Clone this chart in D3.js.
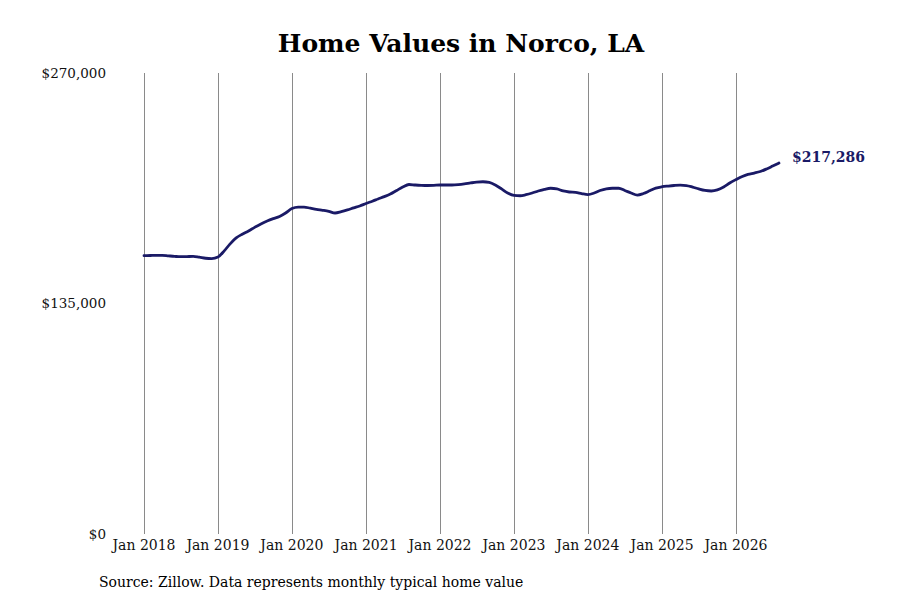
<!DOCTYPE html>
<html><head><meta charset="utf-8">
<script src="https://cdn.jsdelivr.net/npm/d3@7"></script>
<style>body{margin:0;background:#fff;} text{font-family:"DejaVu Serif",serif;}</style>
</head><body>
<svg id="chart" width="900" height="600"></svg>
<script>
const startMonth = "2018-01";
const values = [
163.0,163.1,163.2,163.2,162.9,162.6,162.4,162.5,162.6,162.1,161.5,161.3,
162.2,165.8,169.8,173.4,175.6,177.5,179.6,181.6,183.3,184.7,186.0,188.0,
190.6,191.5,191.5,190.8,190.1,189.6,189.0,188.0,188.8,189.8,191.0,192.1,
193.6,194.9,196.2,197.6,199.1,201.2,203.2,204.7,204.4,204.2,204.1,204.2,
204.4,204.4,204.4,204.6,205.0,205.6,206.1,206.3,205.9,204.4,202.1,199.7,
198.3,198.1,198.7,199.7,200.9,201.9,202.5,202.1,200.9,200.3,200.1,199.4,
198.8,199.7,201.2,202.2,202.5,202.5,201.2,199.7,198.5,199.4,201.0,202.6,
203.4,203.8,204.1,204.3,204.1,203.2,202.1,201.2,200.9,201.5,203.2,205.6,
207.6,209.4,210.6,211.4,212.3,213.8,215.5,217.286
].map(v => v * 1000);
const yTicks = [0, 135000, 270000];
const xTickYears = [2018,2019,2020,2021,2022,2023,2024,2025,2026];
const title = "Home Values in Norco, LA";
const source = "Source: Zillow. Data represents monthly typical home value";

const parse = d3.timeParse("%Y-%m");
const t0 = parse(startMonth);
const data = values.map((v,i) => ({date: d3.timeMonth.offset(t0, i), value: v}));

const svg = d3.select("#chart");
const x = d3.scaleTime().domain([new Date(2018,0,1), new Date(2026,0,1)]).range([144, 736]);
const y = d3.scaleLinear().domain([0, 270000]).range([534, 73]);

// vertical grid
svg.append("g").selectAll("line").data(xTickYears).join("line")
  .attr("x1", d => Math.round(x(new Date(d,0,1))) + 0.5).attr("x2", d => Math.round(x(new Date(d,0,1))) + 0.5)
  .attr("y1", y(270000)).attr("y2", y(0))
  .attr("stroke", "#8a8a8a").attr("stroke-width", 1);

// x labels
svg.append("g").selectAll("text").data(xTickYears).join("text")
  .attr("x", d => x(new Date(d,0,1))).attr("y", 550)
  .attr("text-anchor", "middle").attr("font-size", 14).attr("fill", "#111")
  .text(d => "Jan " + d);

// y labels
const fmt = d => "$" + d3.format(",")(d);
svg.append("g").selectAll("text").data(yTicks).join("text")
  .attr("x", 106).attr("y", d => y(d)).attr("dy", "0.35em")
  .attr("text-anchor", "end").attr("font-size", 13.5).attr("fill", "#111")
  .text(fmt);

// line
const line = d3.line().x(d => x(d.date)).y(d => y(d.value)).curve(d3.curveMonotoneX);
svg.append("path").datum(data).attr("d", line)
  .attr("fill", "none").attr("stroke", "#1a1a66").attr("stroke-width", 2.8)
  .attr("stroke-linejoin", "round").attr("stroke-linecap", "round");

// end label
const last = data[data.length-1];
svg.append("text").attr("x", x(last.date) + 13).attr("y", y(last.value) - 6).attr("dy", "0.35em")
  .attr("font-size", 14).attr("font-weight", "bold").attr("fill", "#1a1a66")
  .text(fmt(Math.round(last.value)));

// title
svg.append("text").attr("x", 461).attr("y", 52).attr("text-anchor", "middle")
  .attr("font-size", 25).attr("font-weight", "bold").attr("fill", "#000").text(title);

// source
svg.append("text").attr("x", 99).attr("y", 587).attr("font-size", 14).attr("fill", "#000").text(source);
</script>
</body></html>
